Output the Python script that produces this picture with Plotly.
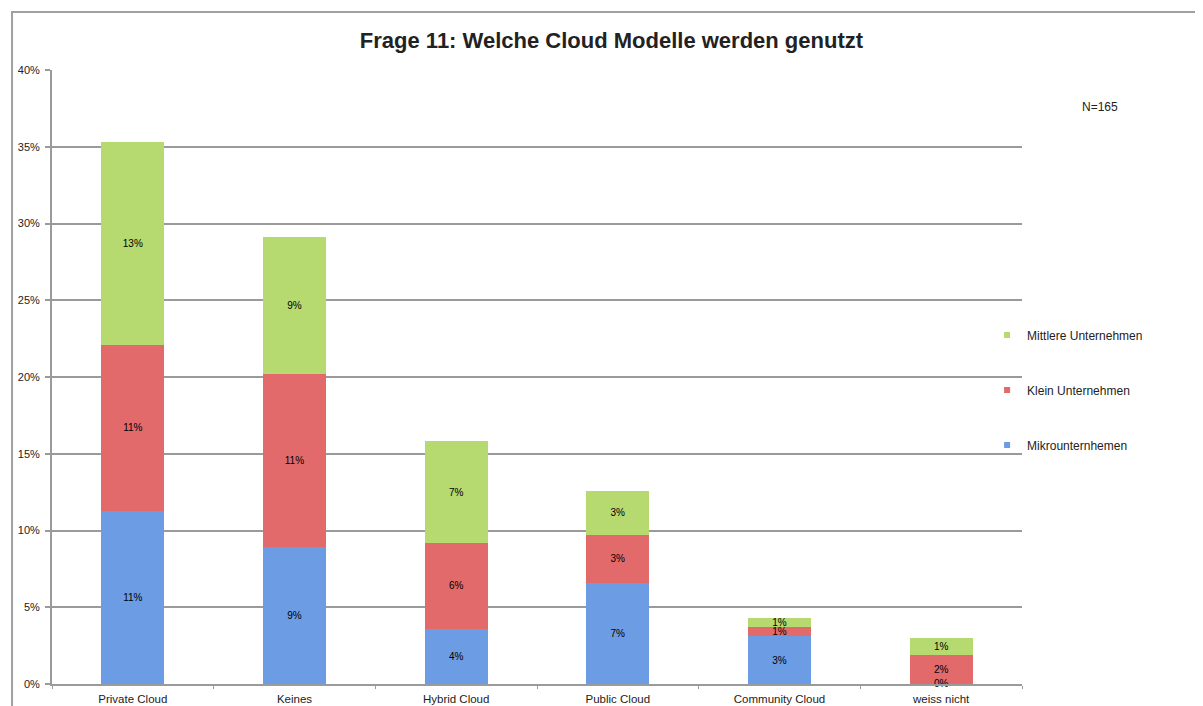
import plotly.graph_objects as go

categories = ["Private Cloud", "Keines", "Hybrid Cloud", "Public Cloud", "Community Cloud", "weiss nicht"]
mikro = [0.113, 0.089, 0.036, 0.066, 0.031, 0.0]
klein = [0.108, 0.113, 0.056, 0.031, 0.006, 0.019]
mittlere = [0.132, 0.089, 0.066, 0.029, 0.006, 0.011]
series_names = ["Mikrounternhemen", "Klein Unternehmen", "Mittlere Unternehmen"]
series_values = [mikro, klein, mittlere]
series_colors = ["#6C9CE3", "#E26A6A", "#B6D970"]
y_ticks = [0, 0.05, 0.10, 0.15, 0.20, 0.25, 0.30, 0.35, 0.40]
y_tick_labels = ["0%", "5%", "10%", "15%", "20%", "25%", "30%", "35%", "40%"]

font_family = "Liberation Sans, Arial, sans-serif"

fig = go.Figure()
for i, (name, vals, col) in enumerate(zip(series_names, series_values, series_colors)):
    fig.add_trace(go.Bar(
        x=categories, y=vals, name=name,
        marker=dict(color=col, line=dict(width=0)),
        text=[f"{round(v*100):.0f}%" if v > 0 else "" for v in vals],
        textposition="inside", insidetextanchor="middle", textangle=0,
        textfont=dict(size=10, color="black", family=font_family),
        showlegend=False,
    ))
    # small square legend markers
    fig.add_trace(go.Scatter(
        x=[None], y=[None], mode="markers", name=name,
        marker=dict(symbol="square", size=6, color=col),
        legendgroup=name, legendrank=3 - i, showlegend=True,
    ))

# labels for zero-height segments
zero_x = [c for c, v in zip(categories, mikro) if v == 0]
fig.add_trace(go.Scatter(
    x=zero_x, y=[0.0 for _ in zero_x], mode="text", text=["0%" for _ in zero_x],
    textposition="middle center", textfont=dict(size=10, color="black", family=font_family),
    showlegend=False, hoverinfo="skip", cliponaxis=False,
))

fig.update_layout(
    barmode="stack", bargap=0.61,
    width=1195, height=698,
    margin=dict(l=44, r=181, t=62, b=22, autoexpand=False),
    paper_bgcolor="white", plot_bgcolor="white",
    font=dict(family=font_family, size=10, color="black"),
    title=dict(text="<b>Frage 11: Welche Cloud Modelle werden genutzt</b>", x=0.505, xanchor="center",
               y=1 - 32/698, yanchor="middle", font=dict(size=22, color="#222", family=font_family)),
    uniformtext=dict(minsize=10, mode="show"),
    legend=dict(x=0.964, y=0.592, xanchor="left", yanchor="top", traceorder="reversed+grouped",
                tracegroupgap=36, font=dict(size=12, color="#222"), itemwidth=30,
                bgcolor="rgba(0,0,0,0)"),
    showlegend=True,
)
fig.update_yaxes(range=[0, 0.40], tickvals=y_ticks, ticktext=y_tick_labels,
                 showgrid=True, gridcolor="#9a9a9a", gridwidth=2,
                 showline=True, linecolor="#9a9a9a", linewidth=2,
                 ticks="outside", ticklen=5, tickcolor="#9a9a9a", tickwidth=2,
                 ticklabelstandoff=3, automargin=False,
                 tickfont=dict(size=11, color="#222"), zeroline=False)
fig.update_xaxes(showline=True, linecolor="#9a9a9a", linewidth=2,
                 ticks="outside", tickson="boundaries", ticklen=3, tickcolor="#9a9a9a",
                 ticklabelstandoff=3, automargin=False,
                 tickfont=dict(size=11.5, color="#222"))

fig.add_annotation(text="N=165", xref="paper", yref="paper", x=1.08, y=0.94,
                   xanchor="center", yanchor="middle",
                   showarrow=False, font=dict(size=12, color="#222"))
fig.add_shape(type="rect", xref="paper", yref="paper", x0=-0.0412, x1=1.4, y0=-0.2, y1=1.0945,
              line=dict(color="#a0a0a0", width=2), fillcolor="rgba(0,0,0,0)", layer="below")

fig.write_html("out.html")
